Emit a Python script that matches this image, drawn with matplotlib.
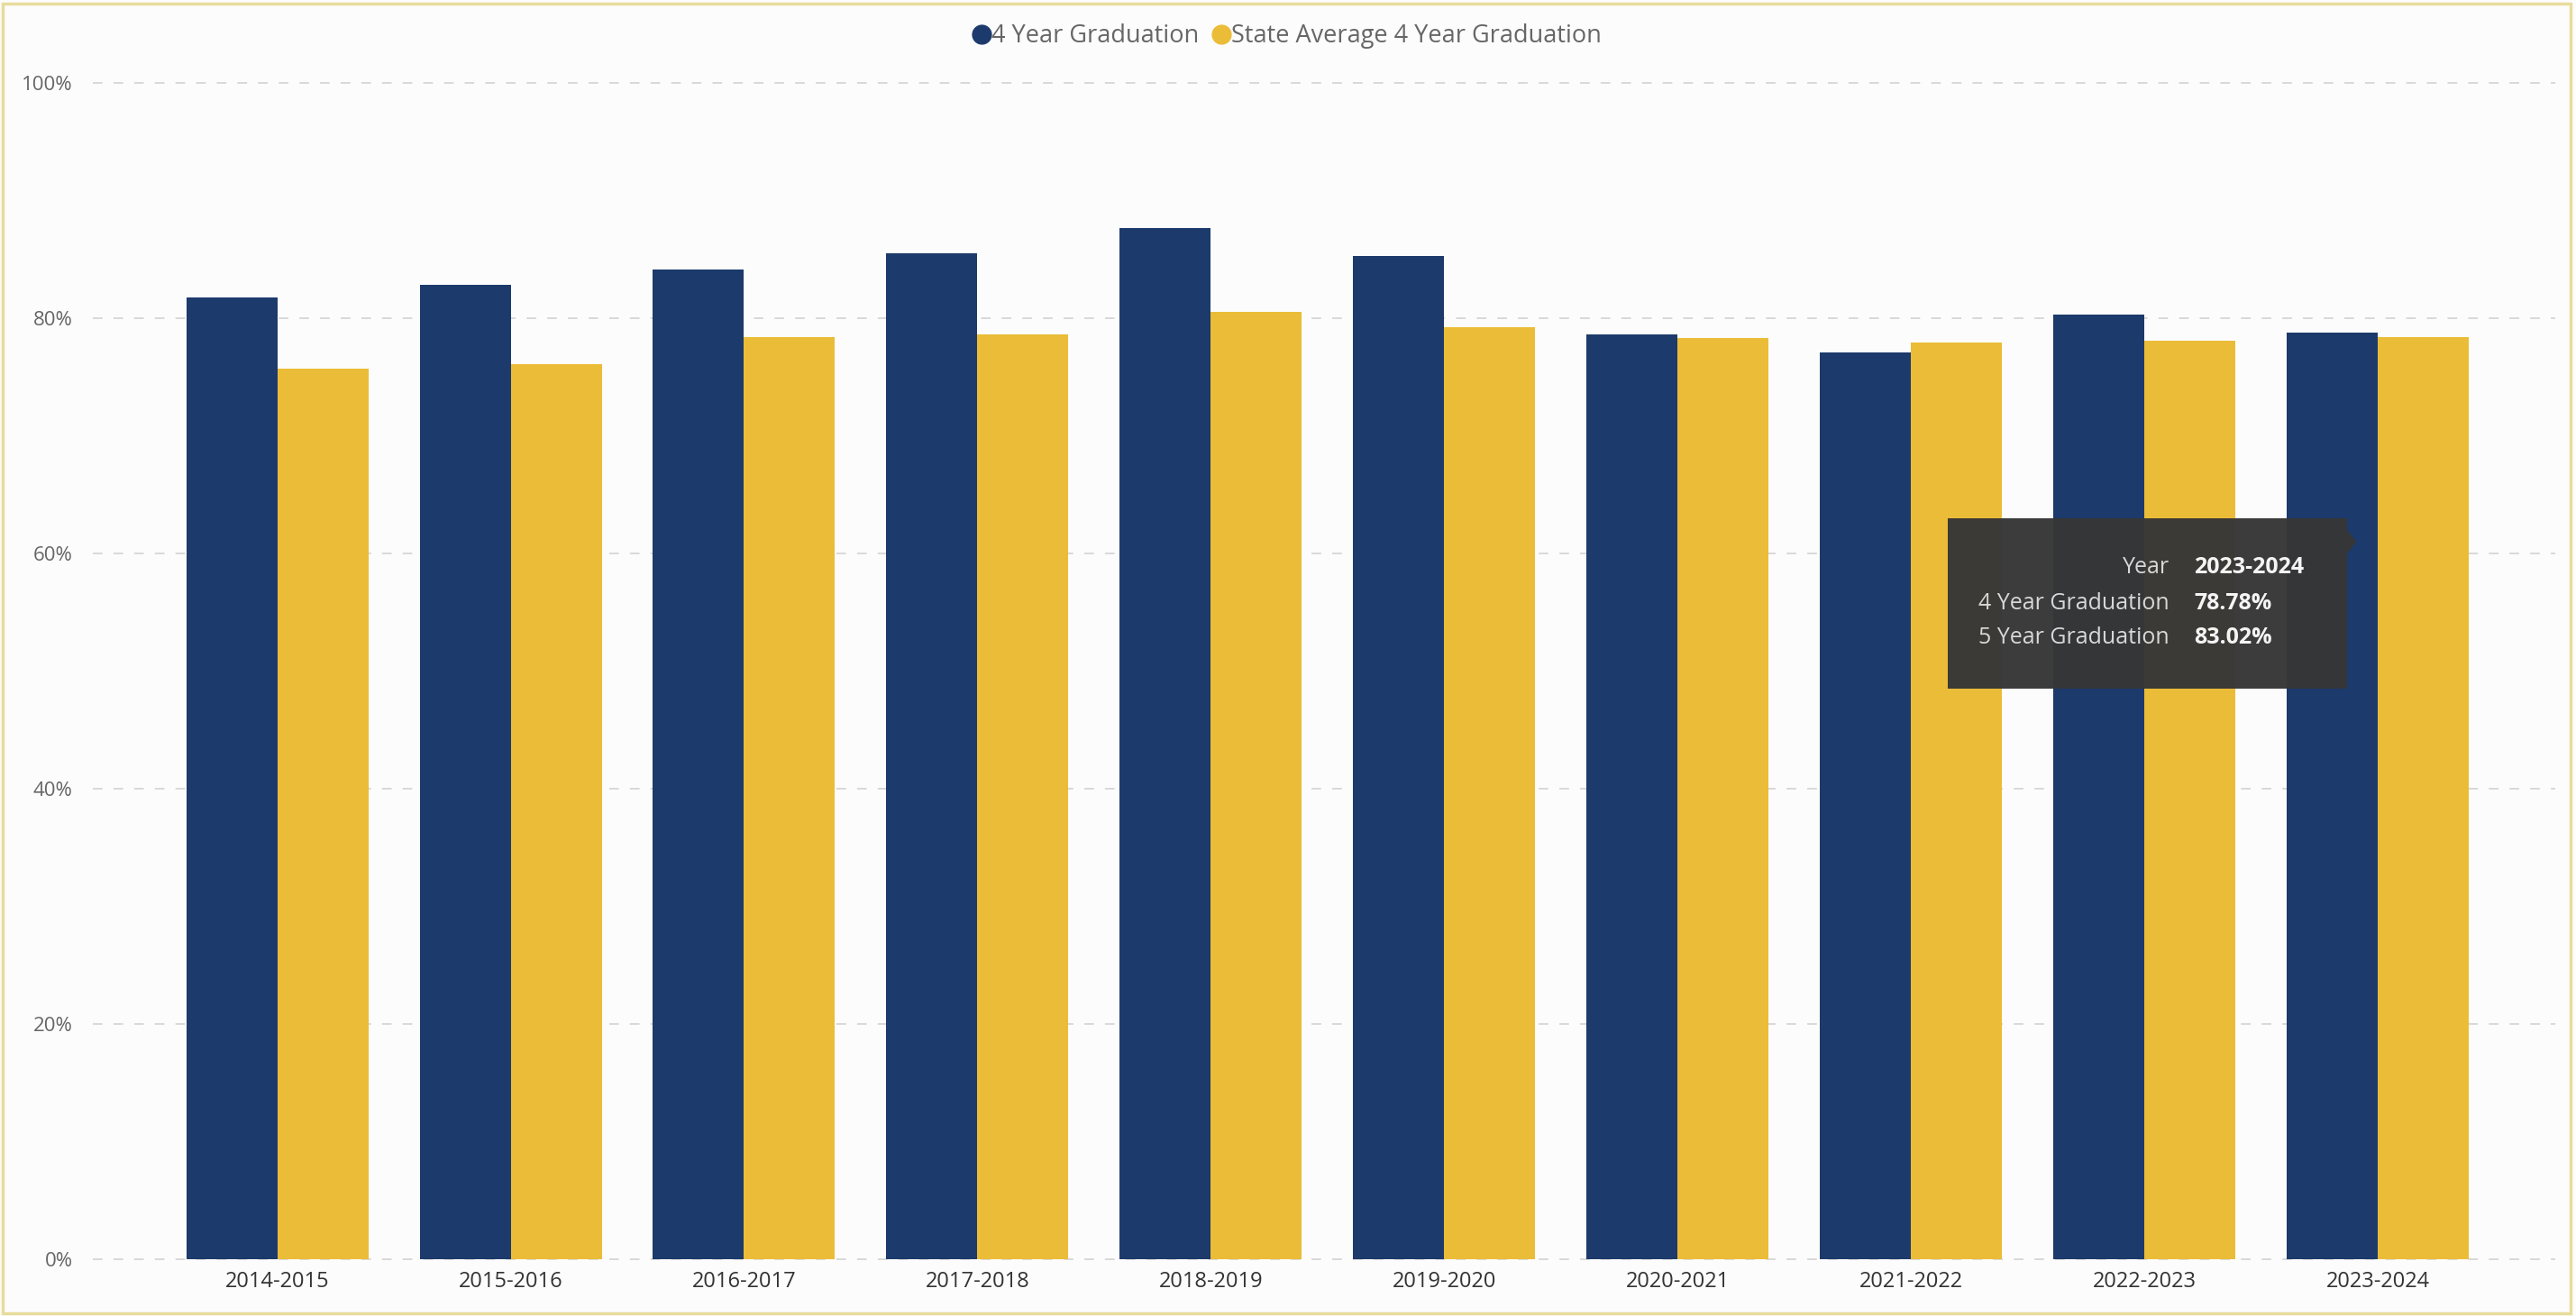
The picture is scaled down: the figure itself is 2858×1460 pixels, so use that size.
import matplotlib
matplotlib.use("Agg")
import matplotlib.pyplot as plt
from matplotlib.lines import Line2D
from matplotlib.patches import Rectangle, Polygon
import numpy as np

### data
years = ["2014-2015", "2015-2016", "2016-2017", "2017-2018", "2018-2019",
         "2019-2020", "2020-2021", "2021-2022", "2022-2023", "2023-2024"]
grad_4yr = [81.8, 82.8, 84.1, 85.5, 87.7, 85.3, 78.6, 77.1, 80.3, 78.78]
state_avg_4yr = [75.7, 76.1, 78.4, 78.6, 80.5, 79.2, 78.3, 77.9, 78.1, 78.4]
y_ticks = [0, 20, 40, 60, 80, 100]

# tooltip contents (hovered bar in the screenshot)
tip_labels = ["Year", "4 Year Graduation", "5 Year Graduation"]
tip_values = ["2023-2024", "78.78%", "83.02%"]

NAVY = "#1c3a6b"
GOLD = "#ebbc37"
W, H = 2858, 1460

plt.rcParams['font.family'] = ['Open Sans', 'DejaVu Sans']

fig = plt.figure(figsize=(W / 100, H / 100), dpi=100)
fig.patch.set_facecolor("#fcfcfc")

# plot area in pixels -> figure fractions
left, right, top, bottom = 103, 2835, 92, 1397
ax = fig.add_axes([left / W, 1 - bottom / H, (right - left) / W, (bottom - top) / H])
ax.set_facecolor("#fcfcfc")

x = np.arange(len(years))
bw = 0.39
ax.bar(x - bw / 2, grad_4yr, width=bw, color=NAVY, zorder=3)
ax.bar(x + bw / 2, state_avg_4yr, width=bw, color=GOLD, zorder=3)

ax.set_xlim(-0.79, 9.76)
ax.set_ylim(0, 100)

# dashed gridlines incl. the 0% line
for t in y_ticks:
    ax.axhline(t, color="#cfcfcf", lw=1.1, ls=(0, (7, 8)), zorder=1, clip_on=False)

ax.set_xticks(x)
ax.set_xticklabels(years, fontsize=17, color="#333333")
ax.set_yticks(y_ticks)
ax.set_yticklabels([f"{t}%" for t in y_ticks], fontsize=16, color="#666666")
ax.tick_params(axis="both", length=0)
ax.tick_params(axis="x", pad=9)
ax.tick_params(axis="y", pad=16)
for s in ax.spines.values():
    s.set_visible(False)

# legend at the top
handles = [Line2D([], [], marker="o", ls="", color=NAVY, markersize=15),
           Line2D([], [], marker="o", ls="", color=GOLD, markersize=15)]
fig.legend(handles, ["4 Year Graduation", "State Average 4 Year Graduation"],
           loc="center", bbox_to_anchor=(0.499, 1 - 40 / H), ncol=2, frameon=False,
           fontsize=19.5, labelcolor="#666666", handletextpad=-0.1, columnspacing=0.4,
           handlelength=1.0)

# tooltip box
def px(xp, yp):
    return xp / W, 1 - yp / H

bx0, by0, bx1, by1 = 2161, 575, 2604, 764
fig.patches.append(Rectangle(px(bx0, by1), (bx1 - bx0) / W, (by1 - by0) / H,
                             transform=fig.transFigure, facecolor="#363636",
                             edgecolor="none", alpha=0.97, zorder=10))
fig.patches.append(Polygon([px(bx1, 588), px(2614, 601), px(bx1, 614)],
                           closed=True, transform=fig.transFigure,
                           facecolor="#363636", edgecolor="none", zorder=10))
row_y = [630, 669, 708]
for lab, val, ry in zip(tip_labels, tip_values, row_y):
    fig.text(*px(2407, ry), lab, ha="right", va="center", fontsize=18,
             color="#d8d8d8", zorder=11)
    fig.text(*px(2434, ry), val, ha="left", va="center", fontsize=18,
             color="#f4f4f4", fontweight="bold", zorder=11)

# thin khaki frame around the visual
fig.patches.append(Rectangle((0.001, 0.002), 0.997, 0.995, transform=fig.transFigure,
                             facecolor="none", edgecolor="#e8dc9c", lw=2.5, zorder=0))

fig.savefig("out.png", dpi=100, facecolor=fig.get_facecolor())
